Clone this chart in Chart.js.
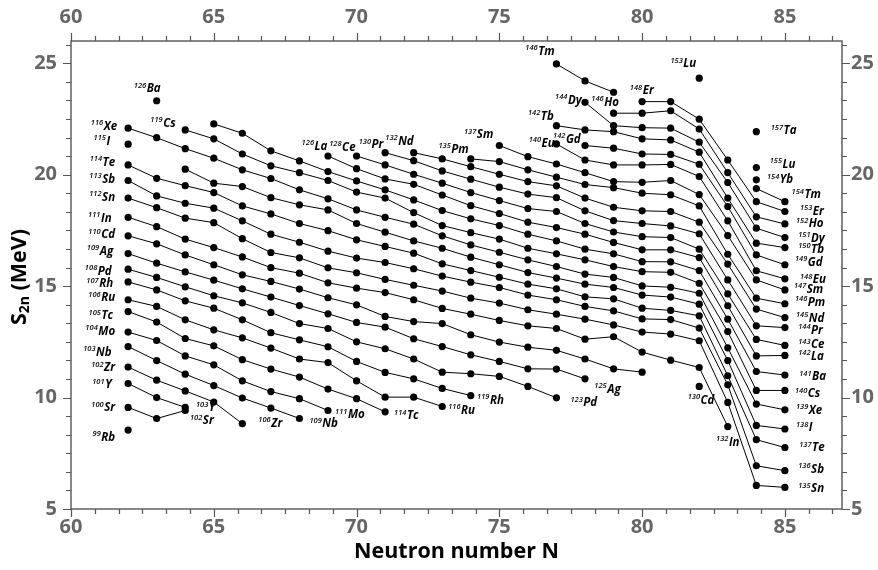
<!DOCTYPE html>
<html>
<head>
<meta charset="utf-8">
<script src="https://cdn.jsdelivr.net/npm/chart.js@4/dist/chart.umd.min.js"></script>
<style>
  html, body { margin: 0; padding: 0; background: #fff; }
  #wrap { width: 878px; height: 570px; }
</style>
</head>
<body>
<div id="wrap"><canvas id="chart" width="878" height="570"></canvas></div>
<script>
// two-neutron separation energies S2n (MeV) along isotopic chains,
// each list starts at the neutron number given in chainStartN (null = no point)
const Rb = [8.54];
const Sr = [9.56, 9.06, 9.42];
const Y  = [10.63, 10.00, 9.56];
const Zr = [11.37, 10.78, 10.30, 9.80, 8.83];
const Nb = [12.29, 11.66, 11.05, 10.54, 9.98, 9.53, 9.06];
const Mo = [12.94, 12.56, 11.87, 11.47, 10.75, 10.27, 9.95, 9.42];
const Tc = [13.86, 13.39, 12.65, 12.32, 11.70, 11.28, 10.92, 10.38, 9.95, 9.36];
const Ru = [14.39, 14.09, 13.49, 13.04, 12.68, 12.22, 11.73, 11.57, 10.75, 10.02, 10.02, 9.60];
const Rh = [15.19, 14.83, 14.34, 14.01, 13.49, 12.91, 12.59, 12.28, 11.62, 11.13, 10.84, 10.41, 10.09];
const Pd = [15.76, 15.39, 14.97, 14.57, 14.25, 13.82, 13.32, 13.10, 12.50, 12.19, 11.73, 11.14, 11.07, 10.95, 10.50, 9.99];
const Ag = [16.46, 16.03, 15.64, 15.27, 14.88, 14.51, 14.13, 13.76, 13.37, 13.16, 12.64, 12.29, 11.92, 11.62, 11.29, 11.28, 10.84];
const Cd = [17.26, 16.90, 16.40, 15.96, 15.51, 15.21, 14.87, 14.48, 14.16, 13.64, 13.41, 13.32, 12.82, 12.49, 12.26, 12.12, 11.73, 11.29, 11.14, null, 10.50];
const In = [18.09, 17.67, 17.11, 16.73, 16.31, 15.83, 15.58, 15.15, 14.91, 14.71, 14.39, 14.00, 13.74, 13.46, 13.22, 13.10, 12.62, 12.73, 12.04, 11.68, 11.35, 8.70];
const Sn = [18.95, 18.52, 18.05, 17.85, 17.13, 16.51, 16.27, 15.82, 15.60, 15.30, 15.04, 14.78, 14.46, 14.24, 13.94, 13.74, 13.52, 13.26, 12.94, 12.85, 12.55, 9.78, 6.06, 5.97];
const Sb = [19.74, 19.05, 18.72, 18.50, 17.93, 17.33, 16.97, 16.57, 16.26, 16.06, 15.78, 15.45, 15.18, 14.94, 14.60, 14.39, 14.09, 13.89, 13.53, 13.50, 13.12, 10.57, 6.94, 6.72];
const Te = [20.44, 19.84, 19.51, 19.20, 18.60, 18.24, 17.81, 17.49, 17.08, 16.78, 16.48, 16.00, 15.70, 15.40, 15.09, 14.88, 14.52, 14.43, 14.01, 13.91, 13.67, 10.98, 8.11, 7.76];
const I  = [21.37, null, 20.25, 19.62, 19.47, 18.97, 18.65, 18.42, 17.81, 17.42, 17.03, 16.70, 16.30, 15.96, 15.61, 15.36, 15.09, 14.94, 14.60, 14.51, 14.19, 11.66, 8.75, 8.59];
const Xe = [22.09, 21.66, 21.17, 20.74, 20.22, 19.83, 19.32, 18.92, 18.42, 18.09, 17.78, 17.26, 16.85, 16.52, 16.18, 15.88, 15.54, 15.39, 15.01, 14.95, 14.68, 12.23, 9.71, 9.45];
const Cs = [22.01, 21.61, 20.93, 20.40, 20.09, 19.74, 19.22, 18.95, 18.30, 17.72, 17.40, 17.11, 16.70, 16.45, 16.18, 15.88, 15.65, 15.62, 15.13, 12.96, 10.32, 10.32];
const Ba = [23.32, null, 22.28, 21.86, 21.07, 20.62, 20.14, 19.72, 19.32, 18.87, 18.39, 18.02, 17.72, 17.33, 17.03, 16.66, 16.45, 16.10, 16.09, 15.70, 13.52, 11.17, 11.01];
const La = [20.84, 20.27, 19.81, 19.57, 19.09, 18.61, 18.26, 17.87, 17.63, 17.33, 16.96, 16.63, 16.63, 16.28, 14.12, 11.87, 11.89];
const Ce = [20.84, 20.44, 20.02, 19.62, 19.20, 18.84, 18.48, 18.35, 17.81, 17.43, 17.22, 17.18, 16.66, 14.65, 12.61, 12.34];
const Pr = [20.99, 20.63, 20.17, 19.80, 19.44, 19.13, 18.97, 18.38, 17.94, 17.81, 17.70, 17.35, 15.28, 13.22, 13.14];
const Nd = [20.99, 20.71, 20.36, 20.02, 19.69, 19.50, 18.95, 18.54, 18.38, 18.35, 17.87, 15.99, 13.97, 13.59];
const Pm = [20.71, 20.59, 20.22, 19.89, 19.56, 19.42, 19.17, 19.10, 18.60, 16.43, 14.46, 14.21];
const Sm = [21.31, 20.81, 20.48, 20.09, 19.69, 19.66, 19.74, 19.11, 17.27, 15.28, 14.83];
const Eu = [21.38, 20.66, 20.44, 20.44, 20.46, 19.92, 17.93, 15.69, 15.33];
const Gd = [21.31, 21.19, 20.93, 20.91, 20.47, 18.57, 16.40, 15.96];
const Tb = [22.20, 22.01, 21.93, 21.61, 21.56, 21.01, 18.95, 16.93, 16.73];
const Dy = [23.25, 22.20, 22.11, 22.09, 21.46, 19.65, 17.60, 17.18];
const Ho = [22.76, 22.76, 22.87, 22.05, 20.09, 18.11, 17.79];
const Er = [23.28, 23.28, 22.49, 20.66, 18.79, 18.35];
const Tm = [24.97, 24.21, 23.70, null, null, null, null, 19.38, 18.79];
const Yb = [19.77];
const Lu = [24.33, null, 20.32];
const Ta = [21.93];

const chainNames  = ['Rb','Sr','Y','Zr','Nb','Mo','Tc','Ru','Rh','Pd','Ag','Cd','In','Sn','Sb','Te','I','Xe',
  'Cs','Ba','La','Ce','Pr','Nd','Pm','Sm','Eu','Gd','Tb','Dy','Ho','Er','Tm','Yb','Lu','Ta'];
const chainValues = [Rb,Sr,Y,Zr,Nb,Mo,Tc,Ru,Rh,Pd,Ag,Cd,In,Sn,Sb,Te,I,Xe,
  Cs,Ba,La,Ce,Pr,Nd,Pm,Sm,Eu,Gd,Tb,Dy,Ho,Er,Tm,Yb,Lu,Ta];
const chainStartN = [62,62,62,62,62,62,62,62,62,62,62,62,62,62,62,62,62,62,
  64,63,69,70,71,72,74,75,77,78,77,78,79,80,77,84,82,84];

// nuclide labels: mass number, symbol, chain and N of the point they sit next to
const labelMass   = ['116','115','114','113','112','111','110','109','108','107','106','105','104','103','102','101','100','99',
  '103','102','106','109','111','114','116','119','123','125','130','132',
  '154','153','152','151','150','149','148','147','146','145','144','143','142','141','140','139','138','137','136','135',
  '157','155','154','153','146','144','146','148','142','140','142','137','126','128','130','132','135','126','119'];
const labelSymbol = ['Xe','I','Te','Sb','Sn','In','Cd','Ag','Pd','Rh','Ru','Tc','Mo','Nb','Zr','Y','Sr','Rb',
  'Y','Sr','Zr','Nb','Mo','Tc','Ru','Rh','Pd','Ag','Cd','In',
  'Tm','Er','Ho','Dy','Tb','Gd','Eu','Sm','Pm','Nd','Pr','Ce','La','Ba','Cs','Xe','I','Te','Sb','Sn',
  'Ta','Lu','Yb','Lu','Tm','Dy','Ho','Er','Tb','Eu','Gd','Sm','La','Ce','Pr','Nd','Pm','Ba','Cs'];
const labelAtN    = [62,62,62,62,62,62,62,62,62,62,62,62,62,62,62,62,62,62,
  64,64,66,68,69,71,73,74,77,78,82,83,
  85,85,85,85,85,85,85,85,85,85,85,85,85,85,85,85,85,85,85,85,
  84,84,84,82,77,78,79,80,77,77,78,75,69,70,71,72,74,63,64];

// label placement: pixel offset from the point and text alignment
const labelLayout = [
  [-11,1.7,'r'],[-18,0.7,'r'],[-13,0.7,'r'],[-13,2,'r'],[-13,2.4,'r'],[-16.5,4.4,'r'],[-13,2.3,'r'],[-15,1.3,'r'],
  [-16.5,5.7,'r'],[-15,5.3,'r'],[-13,1.7,'r'],[-15,7.6,'r'],[-13,2.7,'r'],[-16.5,9,'r'],[-13,4.4,'r'],[-16.5,4.6,'r'],
  [-13,4,'r'],[-13,10.4,'r'],
  [10.7,4,'l'],[4.7,14,'l'],[16,3.3,'l'],[10,8.6,'l'],[7,7.6,'l'],[9,7.3,'l'],[6,7.3,'l'],[6.3,8.3,'l'],[14,8.7,'l'],
  [9.3,13.7,'l'],[1.8,17.3,'c'],[0,19,'c'],
  [6.7,-3.4,'l'],[15,3.3,'l'],[11,3.3,'l'],[13.3,4,'l'],[13.3,5,'l'],[10,1,'l'],[15,4.3,'l'],[9,2.7,'l'],[10,2,'l'],
  [11,4,'l'],[13.3,6.3,'l'],[13.3,2.6,'l'],[13.3,4.3,'l'],[14.3,5.4,'l'],[10,6.6,'l'],[11,4,'l'],[11,2.4,'l'],
  [14.3,4,'l'],[13.3,2.3,'l'],[13.3,5,'l'],
  [14.3,2.3,'l'],[13.3,0,'l'],[10.6,3.3,'l'],[-3,-11,'r'],[-1.7,-9,'r'],[-3.3,1.7,'r'],[-22.3,-7.3,'l'],[-12.3,-7.4,'l'],
  [-2.7,-5.7,'r'],[-1.7,2.7,'r'],[-4.3,-3,'r'],[-6,-7.4,'r'],[-0.7,-6,'r'],[-1,-5.3,'r'],[-1.7,-4.4,'r'],[0,-7.7,'r'],
  [-2,-6,'r'],[4,-8.4,'r'],[-9.6,-3.3,'r']
];

const xTickLabels = [60, 65, 70, 75, 80, 85];
const yTickLabels = [5, 10, 15, 20, 25];

function valueAt(chainIndex, n) {
  const v = chainValues[chainIndex][n - chainStartN[chainIndex]];
  return v === undefined ? null : v;
}

const datasets = chainValues.map((vals, i) => ({
  label: chainNames[i],
  data: vals.map((v, j) => ({ x: chainStartN[i] + j, y: v })),
  borderColor: '#000',
  backgroundColor: '#000',
  borderWidth: 1,
  pointRadius: 3.6,
  pointBorderWidth: 0,
  pointHoverRadius: 3.6,
  spanGaps: false,
  tension: 0
}));

const axisGray = '#666666';
const frameGray = '#555555';

const framePlugin = {
  id: 'frame',
  afterDatasetsDraw(chart) {
    const ctx = chart.ctx;
    const xs = chart.scales.x, ys = chart.scales.y;
    ctx.save();
    ctx.fillStyle = '#000';
    ctx.textBaseline = 'alphabetic';
    for (let i = 0; i < labelMass.length; i++) {
      const v = valueAt(chainNames.indexOf(labelSymbol[i]), labelAtN[i]);
      if (v === null) continue;
      const [dx, dy, al] = labelLayout[i];
      const px = xs.getPixelForValue(labelAtN[i]) + dx;
      const py = ys.getPixelForValue(v) + dy;
      ctx.font = 'italic 600 7.5px "Open Sans"';
      const wm = ctx.measureText(labelMass[i]).width;
      ctx.font = 'italic bold 11.5px "Open Sans"';
      const ws = ctx.measureText(labelSymbol[i]).width;
      const w = wm + 0.5 + ws;
      let x0 = px;
      if (al === 'r') x0 = px - w;
      else if (al === 'c') x0 = px - w / 2;
      ctx.font = 'italic 600 7.5px "Open Sans"';
      ctx.fillText(labelMass[i], x0, py - 4.5);
      ctx.font = 'italic bold 11.5px "Open Sans"';
      ctx.fillText(labelSymbol[i], x0 + wm + 0.5, py);
    }
    ctx.restore();
  },
  afterDraw(chart) {
    const ctx = chart.ctx;
    const a = chart.chartArea;
    const xs = chart.scales.x, ys = chart.scales.y;
    ctx.save();
    // frame
    ctx.strokeStyle = frameGray;
    ctx.lineWidth = 1.4;
    ctx.strokeRect(a.left, a.top, a.right - a.left, a.bottom - a.top);
    // tick marks every 5/6 unit, longer at the labelled ones
    ctx.lineWidth = 1.2;
    ctx.beginPath();
    for (let k = 0; k <= 32; k++) {
      const v = 60 + k * 5 / 6;
      if (v > 87) break;
      const len = k % 6 === 0 ? 8 : 5;
      const x = Math.round(xs.getPixelForValue(v)) + 0.5;
      ctx.moveTo(x, a.bottom); ctx.lineTo(x, a.bottom + len);
      ctx.moveTo(x, a.top); ctx.lineTo(x, a.top - len);
    }
    for (let k = 0; k <= 25; k++) {
      const v = 5 + k * 5 / 6;
      if (v > 26) break;
      const len = k % 6 === 0 ? 8 : 5;
      const y = Math.round(ys.getPixelForValue(v)) + 0.5;
      ctx.moveTo(a.left, y); ctx.lineTo(a.left - len, y);
      ctx.moveTo(a.right, y); ctx.lineTo(a.right + len, y);
    }
    ctx.stroke();
    // tick labels
    ctx.fillStyle = axisGray;
    ctx.font = 'bold 20px "Open Sans"';
    ctx.textAlign = 'center';
    ctx.textBaseline = 'middle';
    xTickLabels.forEach(v => {
      const x = xs.getPixelForValue(v);
      ctx.fillText(String(v), x, 17);
      ctx.fillText(String(v), x, 527);
    });
    yTickLabels.forEach(v => {
      const y = ys.getPixelForValue(v);
      ctx.textAlign = 'right';
      ctx.fillText(String(v), 57, y);
      ctx.textAlign = 'left';
      ctx.fillText(String(v), 851, y);
    });
    // axis titles
    ctx.fillStyle = '#000';
    ctx.textAlign = 'center';
    ctx.font = 'bold 21.5px "Open Sans"';
    ctx.fillText('Neutron number N', (a.left + a.right) / 2, 552);
    ctx.translate(20, (a.top + a.bottom) / 2 + 2);
    ctx.rotate(-Math.PI / 2);
    ctx.textAlign = 'left';
    const big = 'bold 21.5px "Open Sans"', small = 'bold 14px "Open Sans"';
    ctx.font = big; const wS = ctx.measureText('S').width;
    ctx.font = small; const w2 = ctx.measureText('2n').width;
    ctx.font = big; const wR = ctx.measureText(' (MeV)').width;
    const x0 = -(wS + w2 + wR) / 2;
    ctx.font = big; ctx.fillText('S', x0, 0);
    ctx.font = small; ctx.fillText('2n', x0 + wS, 5.5);
    ctx.font = big; ctx.fillText(' (MeV)', x0 + wS + w2, 0);
    ctx.restore();
  }
};

new Chart(document.getElementById('chart'), {
  type: 'line',
  data: { datasets: datasets },
  options: {
    responsive: false,
    animation: false,
    layout: { padding: { left: 71, right: 36, top: 41, bottom: 61 } },
    plugins: { legend: { display: false }, tooltip: { enabled: false } },
    scales: {
      x: { type: 'linear', min: 60, max: 87, display: false },
      y: { type: 'linear', min: 5, max: 26, display: false }
    }
  },
  plugins: [framePlugin]
});
</script>
</body>
</html>
